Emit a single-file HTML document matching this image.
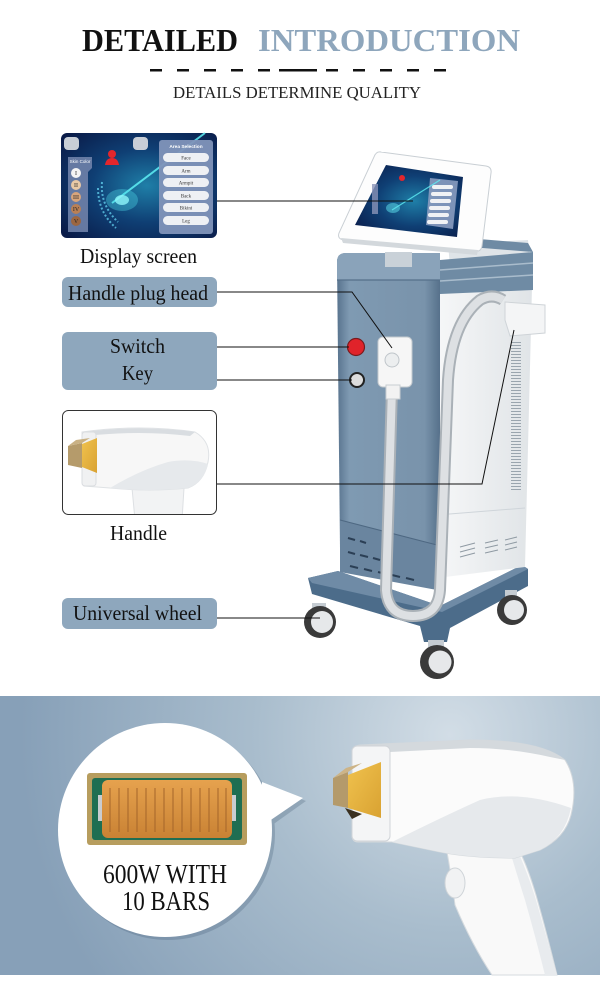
<!DOCTYPE html>
<html><head><meta charset="utf-8">
<style>
html,body{margin:0;padding:0;background:#fff;}
svg{display:block}
text{font-family:"Liberation Serif","Times New Roman",serif;}
.s{font-family:"Liberation Sans",Arial,sans-serif;}
</style></head>
<body>
<svg width="600" height="991" viewBox="0 0 600 991" xmlns="http://www.w3.org/2000/svg">
<defs>
 <radialGradient id="bg" cx="450" cy="735" r="430" gradientUnits="userSpaceOnUse">
  <stop offset="0" stop-color="#d2dde6"/>
  <stop offset="0.45" stop-color="#a9bdcd"/>
  <stop offset="1" stop-color="#87a0b8"/>
 </radialGradient>
 <radialGradient id="scr" cx="0.55" cy="0.5" r="0.7">
  <stop offset="0" stop-color="#1f7fa8"/>
  <stop offset="0.5" stop-color="#0f3f74"/>
  <stop offset="1" stop-color="#0a1b48"/>
 </radialGradient>
 <linearGradient id="front" x1="0" x2="1">
  <stop offset="0" stop-color="#58738e"/><stop offset="0.12" stop-color="#7f9ab2"/><stop offset="0.85" stop-color="#7993ab"/><stop offset="1" stop-color="#56718b"/>
 </linearGradient>
 <linearGradient id="side" x1="0" x2="1">
  <stop offset="0" stop-color="#f6f7f8"/><stop offset="1" stop-color="#e0e4e7"/>
 </linearGradient>
 <linearGradient id="gold" x1="0" y1="0" x2="1" y2="1">
  <stop offset="0" stop-color="#f0c24e"/><stop offset="1" stop-color="#d9a232"/>
 </linearGradient>
 <linearGradient id="chip" x1="0" y1="0" x2="0" y2="1">
  <stop offset="0" stop-color="#e6a24e"/><stop offset="1" stop-color="#c98234"/>
 </linearGradient>
 <pattern id="vent" width="10" height="3" patternUnits="userSpaceOnUse">
  <rect width="10" height="1" fill="#9aa5ae"/>
 </pattern>
 <clipPath id="hbox"><rect x="63" y="411" width="153" height="103" rx="6"/></clipPath>
</defs>

<!-- HEADER -->
<text x="82" y="51" font-size="32" font-weight="bold" fill="#111" textLength="156" lengthAdjust="spacingAndGlyphs">DETAILED</text>
<text x="258" y="51" font-size="32" font-weight="bold" fill="#8ea6bc" textLength="262" lengthAdjust="spacingAndGlyphs">INTRODUCTION</text>
<g fill="#111">
 <rect x="150" y="69" width="12" height="2.5"/><rect x="177" y="69" width="12" height="2.5"/><rect x="204" y="69" width="12" height="2.5"/><rect x="231" y="69" width="12" height="2.5"/><rect x="258" y="69" width="12" height="2.5"/>
 <rect x="279" y="69" width="38" height="2.5"/>
 <rect x="326" y="69" width="12" height="2.5"/><rect x="353" y="69" width="12" height="2.5"/><rect x="380" y="69" width="12" height="2.5"/><rect x="407" y="69" width="12" height="2.5"/><rect x="434" y="69" width="12" height="2.5"/>
</g>
<text x="173" y="98" font-size="17" fill="#222" textLength="248" lengthAdjust="spacingAndGlyphs">DETAILS DETERMINE QUALITY</text>

<!-- DISPLAY SCREEN THUMB -->
<rect x="61" y="133" width="156" height="105" rx="6" fill="url(#scr)"/>
<line x1="112" y1="203" x2="205" y2="133" stroke="#5ff0f5" stroke-width="2" opacity="0.85"/>
<ellipse cx="122" cy="200" rx="16" ry="11" fill="#4fe0ee" opacity="0.35"/>
<ellipse cx="122" cy="200" rx="7" ry="5" fill="#8ff6fa" opacity="0.8"/>
<path d="M102,182 Q100,205 118,222 M98,188 Q98,212 116,228" stroke="#5fc9e8" stroke-width="2" fill="none" stroke-dasharray="2 2" opacity="0.8"/>
<rect x="64" y="137" width="15" height="13" rx="4" fill="#c8ced6"/>
<rect x="133" y="137" width="15" height="13" rx="4" fill="#c8ced6"/>
<path d="M68,157 L92,157 L92,168 L88,172 L88,232 L68,232 Z" fill="#6f82aa" opacity="0.9"/>
<text x="80" y="163" font-size="4.5" fill="#fff" text-anchor="middle" class="s">Skin Color</text>
<g font-size="6" text-anchor="middle" fill="#222">
<circle cx="76" cy="173" r="5" fill="#f4f4f4"/><text x="76" y="175">I</text>
<circle cx="76" cy="185" r="5" fill="#e9c9a6"/><text x="76" y="187">II</text>
<circle cx="76" cy="197" r="5" fill="#d8a57c"/><text x="76" y="199">III</text>
<circle cx="76" cy="209" r="5" fill="#b98055"/><text x="76" y="211">IV</text>
<circle cx="76" cy="221" r="5" fill="#9c6640"/><text x="76" y="223">V</text>
</g>
<circle cx="112" cy="154" r="4" fill="#e3262c"/>
<path d="M105,165 Q106,158 112,158 Q118,158 119,165 Z" fill="#e3262c"/>
<rect x="159" y="140" width="54" height="94" rx="3" fill="#8193b9" opacity="0.95"/>
<text x="186" y="148" font-size="4.8" fill="#fff" text-anchor="middle" font-weight="bold" class="s">Area Selection</text>
<g fill="#eef0f4"><rect x="163" y="153" width="46" height="9" rx="4.5"/><rect x="163" y="166" width="46" height="9" rx="4.5"/><rect x="163" y="178" width="46" height="9" rx="4.5"/><rect x="163" y="191" width="46" height="9" rx="4.5"/><rect x="163" y="203" width="46" height="9" rx="4.5"/><rect x="163" y="216" width="46" height="9" rx="4.5"/></g>
<g font-size="5" fill="#333" text-anchor="middle" class="s"><text x="186" y="159.5">Face</text><text x="186" y="172.5">Arm</text><text x="186" y="184.5">Armpit</text><text x="186" y="197.5">Back</text><text x="186" y="209.5">Bikini</text><text x="186" y="222.5">Leg</text></g>
<text x="80" y="263" font-size="21" fill="#111" textLength="117" lengthAdjust="spacingAndGlyphs">Display screen</text>

<!-- LABEL BOXES -->
<rect x="62" y="277" width="155" height="30" rx="6" fill="#8ea7bd"/>
<text x="68" y="300" font-size="21" fill="#111" textLength="140" lengthAdjust="spacingAndGlyphs">Handle plug head</text>
<rect x="62" y="332" width="155" height="58" rx="6" fill="#8ea7bd"/>
<text x="110" y="353" font-size="21" fill="#111" textLength="55" lengthAdjust="spacingAndGlyphs">Switch</text>
<text x="122" y="380" font-size="21" fill="#111" textLength="31" lengthAdjust="spacingAndGlyphs">Key</text>

<!-- HANDLE THUMB -->
<rect x="62.5" y="410.5" width="154" height="104" rx="6" fill="#fff" stroke="#333" stroke-width="1"/>
<g clip-path="url(#hbox)">
 <path d="M132,488 L135,520 L182,520 L184,488 Z" fill="#f2f3f4" stroke="#dde0e3"/>
 <path d="M82,432 Q140,424 195,432 Q212,442 208,462 Q204,482 188,488 Q150,492 110,488 L84,486 Z" fill="#f7f7f7" stroke="#dfe2e5"/>
 <path d="M110,488 Q140,470 168,462 Q190,458 208,464 Q204,482 188,488 Q150,492 110,488 Z" fill="#e6e9ec"/>
 <path d="M84,432 Q140,425 195,432 L190,436 Q140,430 86,436 Z" fill="#d9dde1"/>
 <rect x="82" y="432" width="14" height="54" rx="3" fill="#f0f1f2" stroke="#dadde0"/>
 <polygon points="68,446 82,443 82,468 68,465" fill="#b59b6b"/>
 <polygon points="68,446 76,440 90,438 82,443" fill="#c9b184"/>
 <polygon points="82,444 97,438 97,473 82,467" fill="url(#gold)"/>
</g>
<text x="110" y="540" font-size="21" fill="#111" textLength="57" lengthAdjust="spacingAndGlyphs">Handle</text>

<rect x="62" y="598" width="155" height="31" rx="6" fill="#8ea7bd"/>
<text x="73" y="620" font-size="21" fill="#111" textLength="129" lengthAdjust="spacingAndGlyphs">Universal wheel</text>

<!-- MACHINE -->
<!-- base -->
<polygon points="308,578 338,571 440,606 522,565 528,569 528,586 450,628 447,642 424,642 420,626 312,594" fill="#4c6c8a"/>
<polygon points="308,578 338,571 440,606 522,565 528,569 442,612 312,583" fill="#6f8ba6"/>
<!-- right side white -->
<polygon points="440,290 532,287 525,567 437,578 440,548" fill="url(#side)"/>
<line x1="437" y1="515" x2="525" y2="508" stroke="#cfd5da" stroke-width="1"/>
<rect x="511" y="340" width="10" height="150" fill="url(#vent)"/>
<g stroke="#8f9aa3" stroke-width="1">
 <line x1="460" y1="547" x2="475" y2="543"/><line x1="460" y1="552" x2="475" y2="548"/><line x1="460" y1="557" x2="475" y2="553"/>
 <line x1="485" y1="543" x2="498" y2="540"/><line x1="485" y1="548" x2="498" y2="545"/><line x1="485" y1="553" x2="498" y2="550"/>
 <line x1="505" y1="540" x2="517" y2="537"/><line x1="505" y1="545" x2="517" y2="542"/><line x1="505" y1="550" x2="517" y2="547"/>
</g>
<!-- front panel -->
<path d="M337,262 Q337,253 346,253 L440,253 L440,548 L340,548 Z" fill="url(#front)"/>
<path d="M337,262 Q337,253 346,253 L440,253 L440,280 L337,280 Z" fill="#8aa3ba"/>
<line x1="337" y1="280" x2="440" y2="280" stroke="#56708a" stroke-width="1.2"/>
<polygon points="340,520 437,545 437,590 340,572" fill="#6a859f"/>
<line x1="340" y1="520" x2="437" y2="545" stroke="#4e6882" stroke-width="1"/>
<g stroke="#2b3f55" stroke-width="2">
 <line x1="348" y1="538" x2="355" y2="540"/><line x1="360" y1="541" x2="366" y2="543"/>
 <line x1="348" y1="552" x2="355" y2="554"/><line x1="360" y1="555" x2="368" y2="557"/><line x1="373" y1="558" x2="380" y2="560"/>
 <line x1="350" y1="566" x2="358" y2="568"/><line x1="364" y1="569" x2="372" y2="571"/><line x1="378" y1="572" x2="386" y2="574"/><line x1="392" y1="575" x2="400" y2="577"/><line x1="406" y1="578" x2="414" y2="580"/>
</g>
<!-- top rail / tray -->
<polygon points="448,244 528,240 530,262 450,266" fill="#dfe4e8"/>
<polygon points="455,237 528,243 533,252 458,246" fill="#6f8ba4"/>
<polygon points="440,260 533,252 533,290 440,294" fill="#6f8ba4"/>
<line x1="440" y1="270" x2="533" y2="263" stroke="#a9bccc" stroke-width="1.5"/>
<line x1="440" y1="281" x2="533" y2="275" stroke="#a9bccc" stroke-width="1.5"/>
<rect x="385" y="252" width="27" height="15" fill="#c9d1d8"/>
<!-- monitor -->
<path d="M381,152 L486,166 Q492,167 491,173 L482,246 Q481,252 475,251 L344,240 Q337,239 339,233 L374,157 Q376,151 381,152 Z" fill="#fdfdfd" stroke="#c9cfd4" stroke-width="1"/>
<path d="M341,238 L478,250 L477,255 L343,243 Z" fill="#d3d8dc"/>
<polygon points="386,165 463,177 457,237 355,225" fill="url(#scr)"/>
<polygon points="430,178 458,181 453,229 426,225" fill="#8a9cc0" opacity="0.9"/>
<g fill="#f0f2f5"><rect x="432" y="185" width="21" height="4" rx="2"/><rect x="431" y="192" width="21" height="4" rx="2"/><rect x="430" y="199" width="21" height="4" rx="2"/><rect x="429" y="206" width="21" height="4" rx="2"/><rect x="428" y="213" width="21" height="4" rx="2"/><rect x="427" y="220" width="21" height="4" rx="2"/></g>
<line x1="392" y1="210" x2="440" y2="180" stroke="#5ff0f5" stroke-width="1.2" opacity="0.8"/>
<ellipse cx="393" cy="208" rx="7" ry="5" fill="#5fe3ef" opacity="0.5"/>
<circle cx="402" cy="178" r="3" fill="#e3262c"/>
<rect x="372" y="184" width="6" height="30" fill="#8a94b8" opacity="0.8"/>
<!-- cable -->
<path d="M392,388 L386,590 Q388,616 413,616 Q438,616 440,590 L448,380 Q452,322 480,300 Q492,293 503,300" fill="none" stroke="#aab1b7" stroke-width="12"/>
<path d="M392,388 L386,590 Q388,616 413,616 Q438,616 440,590 L448,380 Q452,322 480,300 Q492,293 503,300" fill="none" stroke="#dde0e3" stroke-width="8"/>
<!-- holder -->
<polygon points="505,302 545,305 545,333 510,336 505,320" fill="#f4f5f6" stroke="#cfd4d8"/>
<!-- plug -->
<rect x="378" y="337" width="34" height="50" rx="5" fill="#f6f6f6" stroke="#c3c9ce"/>
<circle cx="392" cy="360" r="7" fill="#eceeef" stroke="#bfc5ca"/>
<rect x="386" y="385" width="14" height="14" fill="#f2f2f2" stroke="#c8cdd1"/>
<!-- buttons -->
<circle cx="356" cy="347" r="8.5" fill="#e0232a" stroke="#7a1a1d" stroke-width="1.2"/>
<circle cx="357" cy="380" r="7" fill="#dcdcdc" stroke="#222" stroke-width="2"/>
<!-- wheels -->
<g>
 <rect x="312" y="603" width="14" height="12" fill="#c5ccd2"/>
 <circle cx="320" cy="622" r="16" fill="#3a3a3a"/><circle cx="322" cy="622" r="11" fill="#e6e8ea"/>
 <rect x="505" y="590" width="12" height="12" fill="#c5ccd2"/>
 <circle cx="512" cy="610" r="15" fill="#3a3a3a"/><circle cx="514" cy="610" r="10" fill="#e6e8ea"/>
 <rect x="428" y="640" width="16" height="12" fill="#c5ccd2"/>
 <circle cx="437" cy="662" r="17" fill="#3a3a3a"/><circle cx="440" cy="662" r="11.5" fill="#e6e8ea"/>
</g>

<!-- CONNECTORS -->
<g stroke="#111" stroke-width="1" fill="none">
 <line x1="217" y1="201" x2="413" y2="201"/>
 <polyline points="217,292 352,292 392,348"/>
 <line x1="217" y1="347" x2="349" y2="347"/>
 <line x1="217" y1="380" x2="352" y2="380"/>
 <polyline points="217,484 482,484 514,330"/>
 <line x1="217" y1="618" x2="320" y2="618"/>
</g>

<!-- BOTTOM PANEL -->
<rect x="0" y="696" width="600" height="279" fill="url(#bg)"/>
<!-- bubble -->
<g opacity="0.25" fill="#3b556e"><circle cx="168" cy="833" r="107"/><polygon points="268,786 306,801 268,828"/></g>
<circle cx="165" cy="830" r="107" fill="#fff"/>
<polygon points="262,782 303,798 262,826" fill="#fff"/>
<rect x="87" y="773" width="160" height="72" rx="3" fill="#b79d5e"/>
<rect x="92" y="778" width="150" height="62" rx="3" fill="#1f6e52"/>
<rect x="98" y="795" width="8" height="26" fill="#c9ccd0"/>
<rect x="228" y="795" width="8" height="26" fill="#c9ccd0"/>
<rect x="102" y="780" width="130" height="58" rx="6" fill="url(#chip)"/>
<g stroke="#a4652a" stroke-width="1">
 <line x1="110" y1="788" x2="110" y2="832"/><line x1="119" y1="788" x2="119" y2="832"/><line x1="128" y1="788" x2="128" y2="832"/><line x1="137" y1="788" x2="137" y2="832"/><line x1="146" y1="788" x2="146" y2="832"/><line x1="155" y1="788" x2="155" y2="832"/><line x1="164" y1="788" x2="164" y2="832"/><line x1="173" y1="788" x2="173" y2="832"/><line x1="182" y1="788" x2="182" y2="832"/><line x1="191" y1="788" x2="191" y2="832"/><line x1="200" y1="788" x2="200" y2="832"/><line x1="209" y1="788" x2="209" y2="832"/><line x1="218" y1="788" x2="218" y2="832"/><line x1="226" y1="788" x2="226" y2="832"/>
</g>
<text x="103" y="883" font-size="27" fill="#111" textLength="124" lengthAdjust="spacingAndGlyphs">600W WITH</text>
<text x="122" y="910" font-size="27" fill="#111" textLength="88" lengthAdjust="spacingAndGlyphs">10 BARS</text>

<!-- big handle -->
<path d="M447,852 Q452,880 455,905 Q472,945 492,975 L557,975 Q546,930 536,895 Q528,868 520,852 Z" fill="#f9f9f9" stroke="#d6dbdf"/>
<path d="M520,856 Q530,880 536,900 Q546,935 557,975 L545,975 Q535,935 525,900 Q518,878 512,858 Z" fill="#e8ebee"/>
<ellipse cx="455" cy="883" rx="10" ry="15" fill="#f1f2f3" stroke="#cfd4d8"/>
<path d="M352,752 Q352,746 360,745 L470,740 Q540,740 565,760 Q579,782 571,815 Q565,838 540,850 L515,858 Q470,858 440,852 L392,842 L358,842 Q352,842 352,835 Z" fill="#fbfbfb" stroke="#d3d8dc"/>
<path d="M392,842 Q440,818 480,800 Q520,790 571,808 Q565,838 540,850 L515,858 Q470,858 440,852 Z" fill="#e6e9ec"/>
<path d="M360,745 L470,740 Q540,740 565,760 L550,757 Q510,748 470,748 L390,752 Z" fill="#d4d9dd"/>
<rect x="352" y="746" width="38" height="95" rx="5" fill="#f4f5f6" stroke="#d0d4d8"/>
<polygon points="333,778 348,772 348,808 333,805" fill="#b49a6b"/>
<polygon points="333,778 346,768 362,763 348,772" fill="#cdb487"/>
<polygon points="348,775 381,762 381,818 348,808" fill="url(#gold)"/>
<polygon points="345,808 362,814 352,819" fill="#3a3020"/>
</svg>
</body></html>
